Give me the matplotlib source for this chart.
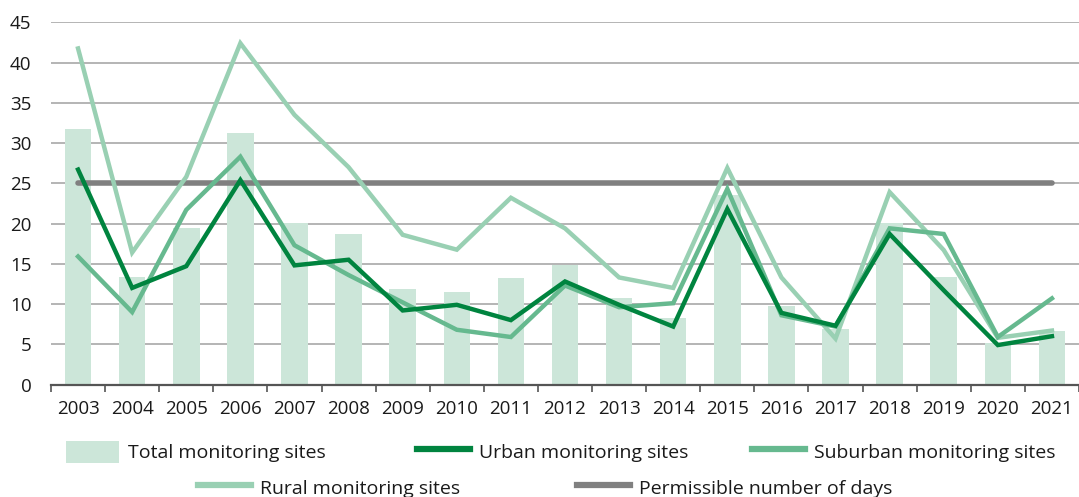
import matplotlib
matplotlib.use("Agg")
import matplotlib.pyplot as plt
from matplotlib.patches import Patch
from matplotlib.lines import Line2D

years = ["2003", "2004", "2005", "2006", "2007", "2008", "2009", "2010", "2011", "2012",
         "2013", "2014", "2015", "2016", "2017", "2018", "2019", "2020", "2021"]
total = [31.7, 13.4, 19.4, 31.2, 20.1, 18.7, 11.9, 11.5, 13.2, 14.8,
         10.7, 8.3, 23.5, 9.8, 6.9, 20.1, 13.3, 5.1, 6.7]
urban = [26.7, 12.0, 14.7, 25.4, 14.8, 15.5, 9.2, 9.9, 8.0, 12.8,
         9.9, 7.2, 21.8, 8.9, 7.3, 18.7, 11.7, 4.9, 6.0]
suburban = [15.9, 9.0, 21.7, 28.3, 17.3, 13.6, 10.2, 6.8, 5.9, 12.3,
            9.6, 10.1, 24.3, 8.6, 7.2, 19.4, 18.7, 5.9, 10.7]
rural = [41.75, 16.4, 25.8, 42.4, 33.5, 27.0, 18.6, 16.75, 23.2, 19.4,
         13.3, 12.0, 26.9, 13.3, 5.7, 23.9, 16.7, 5.8, 6.7]
permissible = [25] * len(years)

labels = ["Total monitoring sites", "Urban monitoring sites", "Suburban monitoring sites",
          "Rural monitoring sites", "Permissible number of days"]

c_total = "#cce6d9"
c_urban = "#00843f"
c_sub = "#66b98f"
c_rural = "#99d0b3"
c_perm = "#808080"

plt.rcParams['font.family'] = ['Open Sans', 'DejaVu Sans']

W, H = 1079, 497
fig = plt.figure(figsize=(W / 100, H / 100), dpi=100)
ax = fig.add_axes([51 / W, 1 - 384.5 / H, 1 - 51 / W, (384.5 - 22.3) / H])

x = list(range(len(years)))
ax.bar(x, total, width=0.49, color=c_total, zorder=2)
ax.plot(x, permissible, color=c_perm, lw=4.0, solid_capstyle='round', zorder=3)
ax.plot(x, rural, color=c_rural, lw=3.2, solid_joinstyle='miter', zorder=4)
ax.plot(x, suburban, color=c_sub, lw=3.2, solid_joinstyle='miter', zorder=5)
ax.plot(x, urban, color=c_urban, lw=3.2, solid_joinstyle='miter', zorder=6)

ax.set_xlim(-0.5, -0.5 + (W - 51) / 54.45)
ax.set_ylim(0, 45)
ax.set_yticks(range(0, 46, 5))
ax.set_axisbelow(True)
ax.yaxis.grid(True, color="#a0a0a0", lw=1.1)
for s in ["left", "right", "top"]:
    ax.spines[s].set_visible(False)
ax.spines["bottom"].set_color("#555555")
ax.spines["bottom"].set_linewidth(1.6)
ax.spines["bottom"].set_zorder(7)
ax.tick_params(axis="y", length=0, pad=14, labelsize=13.5, labelcolor="#1a1a1a")
ax.set_xticks(x)
ax.set_xticklabels(years)
ax.set_xticks([i - 0.5 for i in range(len(years) + 1)], minor=True)
ax.tick_params(axis="x", which="major", length=0, pad=11, labelsize=13.5, labelcolor="#1a1a1a")
ax.tick_params(axis="x", which="minor", length=5, width=1.2, color="#555555", direction="out")

handles = [
    Patch(facecolor=c_total, edgecolor="none"),
    Line2D([], [], color=c_urban, lw=4.5),
    Line2D([], [], color=c_sub, lw=4.5),
    Line2D([], [], color=c_rural, lw=4.5),
    Line2D([], [], color=c_perm, lw=4.5),
]
fs = 14
pos = [(66, 452), (417, 452), (752, 452), (198, 488), (577, 488)]
for h, lab, (px, py) in zip(handles, labels, pos):
    leg = fig.legend([h], [lab], loc="center left", bbox_to_anchor=(px / W, 1 - py / H),
                     frameon=False, borderpad=0, borderaxespad=0, handlelength=53 / (fs * 100 / 72),
                     handleheight=28 / (fs * 100 / 72), handletextpad=0.45, fontsize=fs)
    for t in leg.get_texts():
        t.set_color("#1a1a1a")

fig.savefig("out.png", dpi=100)
